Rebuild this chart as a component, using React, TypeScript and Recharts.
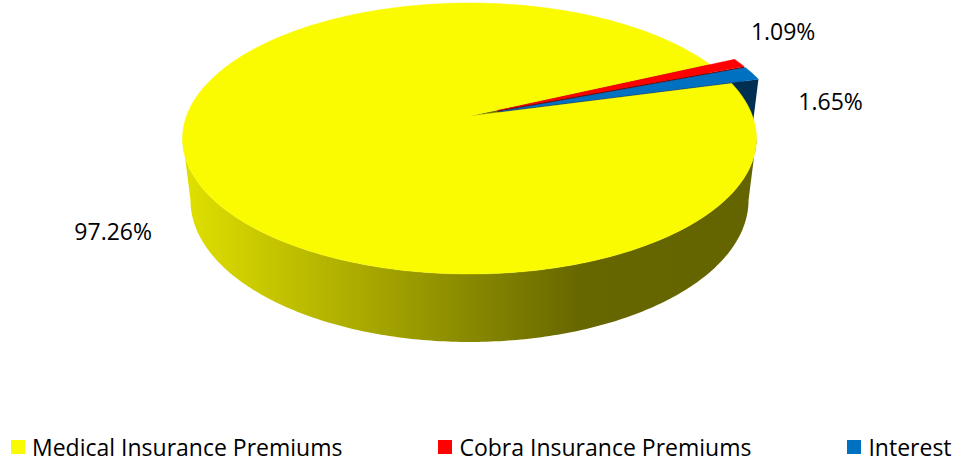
import React from 'react';
import { PieChart, Pie, Legend } from 'recharts';

// ---------- data ----------
const categories = ['Medical Insurance Premiums', 'Cobra Insurance Premiums', 'Interest'];
const shares = [97.26, 1.09, 1.65];

// ---------- style ----------
const COLORS = ['#FAFA00', '#FF0000', '#0070C0'];
const EXPLODE = [0, 0.11, 0.11];
const LABEL_R = 1.3;
const LABEL_NUDGE: [number, number][] = [[17, 53], [1, -22], [33, 36]];

const data = categories.map((name, i) => ({ name, value: shares[i] }));

const W = 957;
const H = 466;
const PIE_CX = 469.5;
const PIE_CY = 116;
const PIE_R = 283;
const START_ANGLE = 15;
// fake perspective parameters (relative to radius)
const K = 0.166; // depth recession for back/front
const M = 0.0277; // recession for lower rim
const A_RATIO = 0.4657; // vertical squash
const H_RATIO = 0.2223; // thickness
const FONT = "'Open Sans', 'Liberation Sans', sans-serif";

const rad = (d: number) => (d * Math.PI) / 180;

type Geo = { cx: number; cy: number; R: number };
type Pt = [number, number];

const project = (g: Geo, u: number, v: number, dz: number): Pt => {
  const w = 1 + K * v + M * dz;
  return [g.cx + (g.R * u) / w, g.cy + (g.R * (-A_RATIO * v + H_RATIO * dz)) / w];
};

const sliceInfo = (props: any) => {
  const g: Geo = { cx: Number(props.cx), cy: Number(props.cy), R: Number(props.outerRadius) };
  const lo = Math.min(props.startAngle, props.endAngle);
  const hi = Math.max(props.startAngle, props.endAngle);
  const mid = (lo + hi) / 2;
  const e = EXPLODE[props.index] || 0;
  const tip: Pt = [e * Math.cos(rad(mid)), e * Math.sin(rad(mid))];
  return { g, lo, hi, mid, tip };
};

const rim = (g: Geo, tip: Pt, deg: number, dz: number): Pt =>
  project(g, tip[0] + Math.cos(rad(deg)), tip[1] + Math.sin(rad(deg)), dz);

const arc = (g: Geo, tip: Pt, a: number, b: number, dz: number): Pt[] => {
  const n = Math.max(2, Math.ceil(Math.abs(b - a) / 0.75));
  const pts: Pt[] = [];
  for (let i = 0; i <= n; i++) pts.push(rim(g, tip, a + ((b - a) * i) / n, dz));
  return pts;
};

const toPath = (pts: Pt[]) =>
  'M' + pts.map((p) => `${p[0].toFixed(2)},${p[1].toFixed(2)}`).join('L') + 'Z';

const shade = (hex: string, f: number) => {
  const n = parseInt(hex.slice(1), 16);
  const r = Math.round(((n >> 16) & 255) * f);
  const gg = Math.round(((n >> 8) & 255) * f);
  const b = Math.round((n & 255) * f);
  return `rgb(${r},${gg},${b})`;
};

const renderWalls = (props: any) => {
  const { g, lo, hi, tip } = sliceInfo(props);
  const color = COLORS[props.index];
  const id = `wall-grad-${props.index}`;
  const vis = (Math.asin(K / (1 + M)) * 180) / Math.PI;
  const walls: string[] = [];
  for (let n = -2; n <= 2; n++) {
    const a = Math.max(lo, 180 + vis + 360 * n);
    const b = Math.min(hi, 360 - vis + 360 * n);
    if (b > a) {
      const top = arc(g, tip, a, b, 0);
      const bot = arc(g, tip, b, a, 1);
      walls.push(toPath([...top, ...bot]));
    }
  }
  const faces: string[] = [];
  const edges: [number, number][] = [
    [lo, lo - 90],
    [hi, hi + 90],
  ];
  edges.forEach(([ang, nrm]) => {
    if (Math.sin(rad(nrm)) < 0) {
      const t0 = project(g, tip[0], tip[1], 0);
      const t1 = project(g, tip[0], tip[1], 1);
      faces.push(toPath([t0, rim(g, tip, ang, 0), rim(g, tip, ang, 1), t1]));
    }
  });
  return (
    <g>
      <defs>
        <linearGradient
          id={id}
          gradientUnits="userSpaceOnUse"
          x1={g.cx - g.R * 1.02}
          x2={g.cx + g.R * 1.02}
          y1={0}
          y2={0}
        >
          <stop offset="0" stopColor={shade(color, 0.9)} />
          <stop offset="0.69" stopColor={shade(color, 0.41)} />
          <stop offset="1" stopColor={shade(color, 0.4)} />
        </linearGradient>
      </defs>
      {walls.map((d, k) => (
        <path key={'w' + k} d={d} fill={`url(#${id})`} />
      ))}
      {faces.map((d, k) => (
        <path key={'f' + k} d={d} fill={shade(color, 0.42)} />
      ))}
    </g>
  );
};

const renderTop = (props: any) => {
  const { g, lo, hi, tip } = sliceInfo(props);
  const pts: Pt[] = [project(g, tip[0], tip[1], 0), ...arc(g, tip, lo, hi, 0)];
  const c = COLORS[props.index];
  return <path d={toPath(pts)} fill={c} stroke={c} strokeWidth={0.4} strokeLinejoin="round" />;
};

const renderText = (props: any) => {
  const { g, mid } = sliceInfo(props);
  const [x, y] = project(g, LABEL_R * Math.cos(rad(mid)), LABEL_R * Math.sin(rad(mid)), 0);
  const [dx, dy] = LABEL_NUDGE[props.index] || [0, 0];
  return (
    <text x={x + dx} y={y + dy + 8} textAnchor="middle" fontFamily={FONT} fontSize={23} fill="#000">
      {`${(props.percent * 100).toFixed(2)}%`}
    </text>
  );
};

const renderLegend = (props: any) => {
  const seen = new Set<string>();
  let items: any[] = (props.payload || []).filter((p: any) => {
    if (seen.has(p.value)) return false;
    seen.add(p.value);
    return true;
  });
  if (!items.length) items = categories.map((c) => ({ value: c }));
  items = [...items].sort((a, b) => categories.indexOf(a.value) - categories.indexOf(b.value));
  return (
    <div
      style={{
        display: 'flex',
        alignItems: 'center',
        paddingLeft: 11,
        gap: 96,
        fontFamily: FONT,
        fontSize: 23,
        color: '#000',
        lineHeight: '26px',
        whiteSpace: 'nowrap',
      }}
    >
      {items.map((it: any) => {
        const idx = categories.indexOf(it.value);
        return (
          <div key={it.value} style={{ display: 'flex', alignItems: 'center' }}>
            <span
              style={{ width: 14, height: 14, background: COLORS[idx], marginRight: 7, display: 'inline-block' }}
            />
            <span>{it.value}</span>
          </div>
        );
      })}
    </div>
  );
};

const pieCommon = {
  data,
  dataKey: 'value',
  nameKey: 'name',
  cx: PIE_CX,
  cy: PIE_CY,
  outerRadius: PIE_R,
  startAngle: START_ANGLE,
  endAngle: START_ANGLE - 360,
  fill: 'transparent',
  stroke: 'none',
  isAnimationActive: false,
  labelLine: false,
};

export default function App() {
  return (
    <div style={{ position: 'absolute', left: 0, top: 0, width: W, height: H, background: '#fff' }}>
      <PieChart width={W} height={H} margin={{ top: 0, right: 0, bottom: 0, left: 0 }}>
        <Pie {...(pieCommon as any)} label={renderWalls} />
        <Pie {...(pieCommon as any)} legendType="none" label={renderTop} />
        <Pie {...(pieCommon as any)} legendType="none" label={renderText} />
        <Legend
          content={renderLegend}
          itemSorter={null as any}
          wrapperStyle={{ position: 'absolute', top: 434, left: 0, width: W, height: 26, bottom: 'auto' }}
        />
      </PieChart>
    </div>
  );
}
